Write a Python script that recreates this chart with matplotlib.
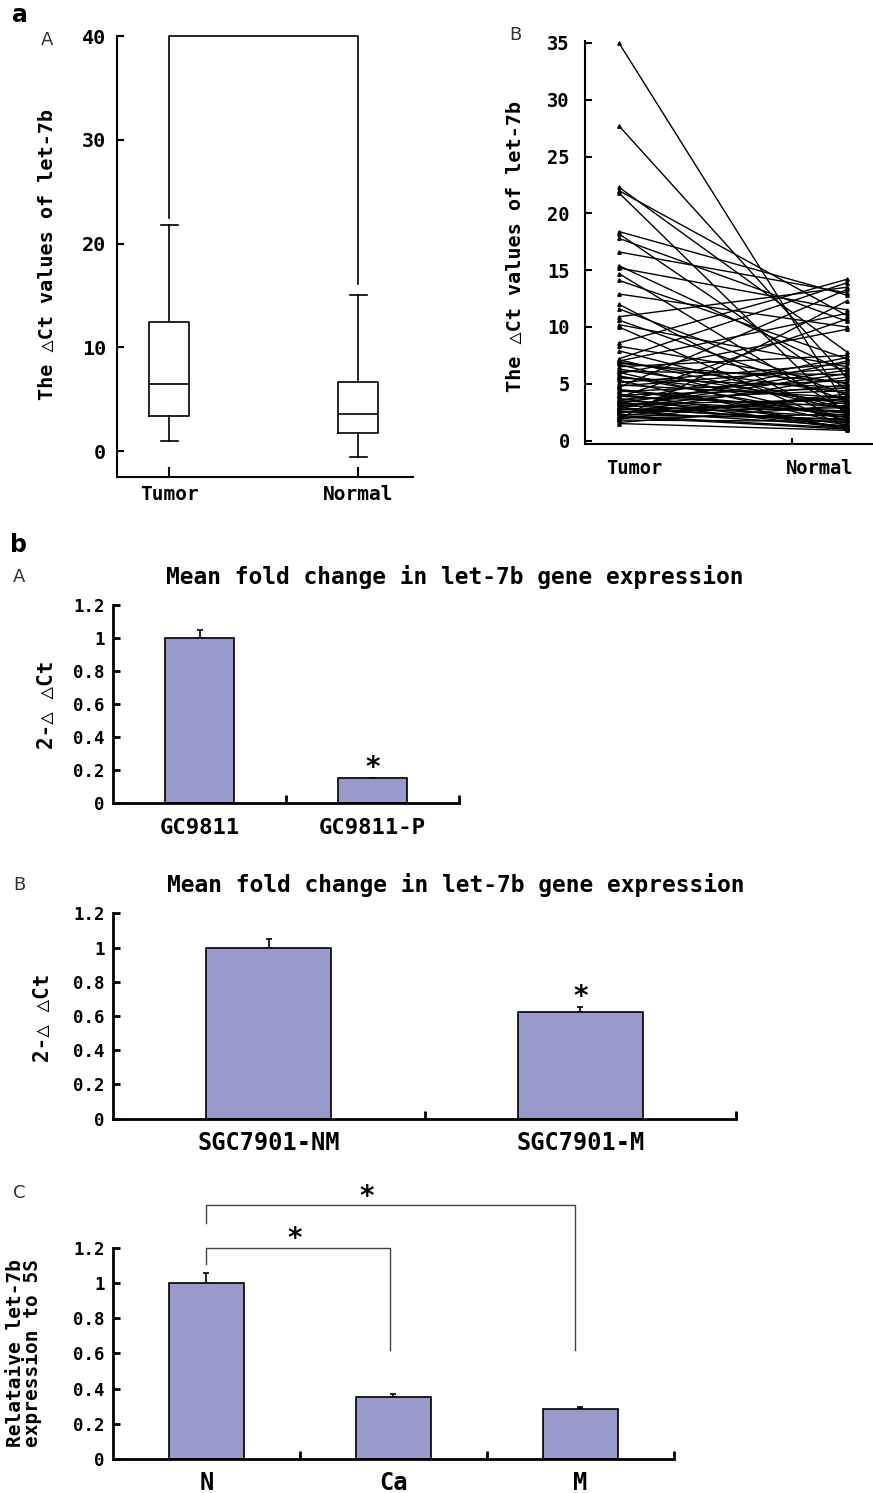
import matplotlib
matplotlib.use('Agg')
import matplotlib.pyplot as plt
import numpy as np

W, H = 873, 1493

# --- data ---
box_groups = ['Tumor', 'Normal']
box_whislo = [1.0, -0.6]
box_q1 = [3.4, 1.7]
box_med = [6.5, 3.6]
box_q3 = [12.4, 6.7]
box_whishi = [21.8, 15.0]
box_bracket_y = 40
box_bracket_ends = [22.5, 16.1]

pair_tumor = [35.0, 27.7, 22.3, 22.0, 21.8, 18.4, 18.2, 17.8, 16.6, 15.4, 15.2, 14.7, 14.1,
              12.9, 12.0, 11.6, 10.9, 10.6, 10.2, 10.0, 8.6, 8.3, 7.9, 7.2, 7.0, 6.9, 6.7,
              6.5, 6.3, 6.1, 5.9, 5.7, 5.5, 5.3, 5.1, 4.9, 4.7, 4.5, 4.3, 4.1, 3.9, 3.8,
              3.6, 3.5, 3.4, 3.3, 3.2, 3.1, 3.0, 2.9, 2.8, 2.7, 2.6, 2.5, 2.4, 2.3, 2.2,
              2.1, 2.0, 1.9, 1.8, 1.6, 1.5,
              7.1, 6.8, 6.0, 5.6, 4.8, 4.4, 4.0, 3.7, 3.3, 3.0, 2.8, 2.5, 2.2, 1.9, 3.5]
pair_normal = [3.0, 5.5, 7.8, 11.0, 2.2, 12.8, 4.5, 10.5, 13.0, 6.0, 11.5, 2.5, 7.2,
               10.0, 1.5, 4.0, 13.5, 3.5, 6.5, 1.2, 14.2, 5.0, 2.8, 13.9, 11.2, 4.2, 1.8,
               7.5, 3.2, 5.8, 9.8, 2.0, 4.7, 1.0, 6.8, 3.8, 13.3, 2.4, 5.3, 1.4, 3.0, 10.7,
               4.4, 2.6, 1.1, 6.2, 3.6, 2.1, 4.9, 1.6, 7.0, 3.3, 1.3, 2.9, 5.6, 1.9, 3.9,
               1.0, 2.3, 12.3, 1.7, 3.1, 0.9,
               2.7, 5.1, 1.5, 3.4, 6.4, 2.2, 4.6, 1.2, 2.5, 5.9, 1.8, 3.7, 1.1, 4.1, 7.3]

ba_labels = ['GC9811', 'GC9811-P']
ba_values = [1.0, 0.15]
ba_err = [0.05, 0.0]

bb_labels = ['SGC7901-NM', 'SGC7901-M']
bb_values = [1.0, 0.625]
bb_err = [0.05, 0.025]

bc_labels = ['N', 'Ca', 'M']
bc_values = [1.0, 0.35, 0.285]
bc_err = [0.055, 0.017, 0.008]

title_b = 'Mean fold change in let-7b gene expression'
ylab_a = 'The \u25b3Ct values of let-7b'
ylab_b = '2-\u25b3 \u25b3Ct'
ylab_c = 'Relataive let-7b\nexpression to 5S'

MONO = ['DejaVu Sans Mono', 'DejaVu Sans']
BAR = '#9999cc'

fig = plt.figure(figsize=(W / 100, H / 100), dpi=100)


def axrect(l, t, r, b):
    return [l / W, 1 - b / H, (r - l) / W, (b - t) / H]


def ftext(x, y, s, **kw):
    fig.text(x / W, 1 - y / H, s, **kw)


def style(ax, ysize, xsize, lw=1.5):
    for s in ['top', 'right']:
        ax.spines[s].set_visible(False)
    for s in ['left', 'bottom']:
        ax.spines[s].set_linewidth(lw)
    ax.tick_params(direction='in', width=lw, length=5)
    for lab in ax.get_yticklabels():
        lab.set_family(MONO)
        lab.set_fontweight('bold')
        lab.set_fontsize(ysize)
    for lab in ax.get_xticklabels():
        lab.set_family(MONO)
        lab.set_fontweight('bold')
        lab.set_fontsize(xsize)


# ---- a / A : box plot ----
ax1 = fig.add_axes(axrect(117, 36, 413, 477))
stats = [dict(label=g, whislo=lo, q1=a, med=m, q3=b, whishi=hi)
         for g, lo, a, m, b, hi in zip(box_groups, box_whislo, box_q1, box_med, box_q3, box_whishi)]
ax1.bxp(stats, positions=[0, 1], widths=0.21, showfliers=False, capwidths=0.09,
        boxprops=dict(color='black', lw=1.2), whiskerprops=dict(color='black', lw=1.2),
        capprops=dict(color='black', lw=1.2), medianprops=dict(color='black', lw=1.2))
ax1.plot([0, 0, 1, 1], [box_bracket_ends[0], box_bracket_y, box_bracket_y, box_bracket_ends[1]],
         color='black', lw=1.2, clip_on=False)
ax1.set_xlim(-0.275, 1.29)
ax1.set_ylim(-2.5, 40)
ax1.set_yticks([0, 10, 20, 30, 40])
ax1.set_xticks([0, 1])
ax1.set_xticklabels(box_groups)
style(ax1, 14.5, 14)
ax1.tick_params(axis='y', pad=8)
ax1.tick_params(axis='x', pad=6, length=7)
ftext(48, 255, ylab_a, rotation=90, ha='center', va='center', family=MONO,
      fontweight='bold', fontsize=14.5)
ftext(20, 15, 'a', fontsize=17, fontweight='bold', ha='center', va='center')
ftext(47, 40, 'A', fontsize=13, ha='center', va='center', color='#333333')

# ---- a / B : paired lines ----
ax2 = fig.add_axes(axrect(585, 40.7, 873, 444))
for t, n in zip(pair_tumor, pair_normal):
    ax2.plot([0, 1], [t, n], color='black', lw=1.0, marker='^', ms=2.5)
ax2.set_xlim(-0.149, 1.114)
ax2.set_ylim(-0.3, 35.2)
ax2.set_yticks(range(0, 36, 5))
ax2.set_xticks([0.066, 0.88])
ax2.set_xticklabels(box_groups)
ax2.set_xticks([0.76], minor=True)
style(ax2, 13.5, 13.5)
ax2.tick_params(axis='x', which='major', length=0, pad=11)
ax2.tick_params(axis='x', which='minor', direction='in', length=4, width=1.5)
ax2.tick_params(axis='y', pad=11)
ftext(515, 247, ylab_a, rotation=90, ha='center', va='center', family=MONO,
      fontweight='bold', fontsize=14.5)
ftext(515, 35, 'B', fontsize=13, ha='center', va='center', color='#333333')


# ---- b panels : bar charts ----
def bars(rect, labels, values, err, xsize, xpad=9):
    ax = fig.add_axes(axrect(*rect))
    x = np.arange(len(labels))
    ax.bar(x, values, width=0.4, color=BAR, edgecolor='black', lw=1.2, zorder=2)
    ax.errorbar(x, values, yerr=[np.zeros(len(err)), err], fmt='none', ecolor='black',
                elinewidth=1.2, capsize=2.5, capthick=1.2, zorder=1)
    ax.set_xlim(-0.5, len(labels) - 0.5)
    ax.set_ylim(0, 1.2)
    ax.set_yticks([0, 0.2, 0.4, 0.6, 0.8, 1.0, 1.2])
    ax.set_yticklabels(['0', '0.2', '0.4', '0.6', '0.8', '1', '1.2'])
    ax.set_xticks(x)
    ax.set_xticklabels(labels)
    ax.set_xticks(np.arange(len(labels)) + 0.5, minor=True)
    style(ax, 12.5, xsize, lw=2)
    ax.tick_params(axis='x', which='major', length=0, pad=xpad)
    ax.tick_params(axis='x', which='minor', direction='in', length=6, width=2)
    ax.tick_params(axis='y', pad=6, length=5)
    return ax


axA = bars((113, 605, 459, 802.7), ba_labels, ba_values, ba_err, 16, xpad=11)
axA.text(1, 0.21, '*', ha='center', va='center', fontsize=20, fontweight='bold')
ftext(455, 577, title_b, ha='center', va='center', family=MONO, fontweight='bold', fontsize=16.5)
ftext(47, 705, ylab_b, rotation=90, ha='center', va='center', family=MONO,
      fontweight='bold', fontsize=15)
ftext(19, 545, 'b', fontsize=17, fontweight='bold', ha='center', va='center')
ftext(19, 577, 'A', fontsize=13, ha='center', va='center', color='#333333')

axB = bars((113, 913.3, 736, 1118.7), bb_labels, bb_values, bb_err, 17)
axB.text(1, 0.71, '*', ha='center', va='center', fontsize=20, fontweight='bold')
ftext(456, 885, title_b, ha='center', va='center', family=MONO, fontweight='bold', fontsize=16.5)
ftext(43, 1018, ylab_b, rotation=90, ha='center', va='center', family=MONO,
      fontweight='bold', fontsize=15)
ftext(19, 885, 'B', fontsize=13, ha='center', va='center', color='#333333')

axC = bars((113, 1247.7, 673.6, 1459), bc_labels, bc_values, bc_err, 17)
axC.plot([0, 0, 0.98, 0.98], [1.11, 1.2, 1.2, 0.62], color='#444444', lw=1, clip_on=False)
axC.plot([0, 0, 1.97, 1.97], [1.34, 1.44, 1.44, 0.62], color='#444444', lw=1, clip_on=False)
axC.text(0.47, 1.25, '*', ha='center', va='center', fontsize=20, fontweight='bold', clip_on=False)
axC.text(0.86, 1.49, '*', ha='center', va='center', fontsize=20, fontweight='bold', clip_on=False)
ftext(24, 1353, ylab_c, rotation=90, ha='center', va='center', family=MONO,
      fontweight='bold', fontsize=14, linespacing=0.8)
ftext(19, 1193, 'C', fontsize=13, ha='center', va='center', color='#333333')

fig.savefig('out.png', dpi=100)
